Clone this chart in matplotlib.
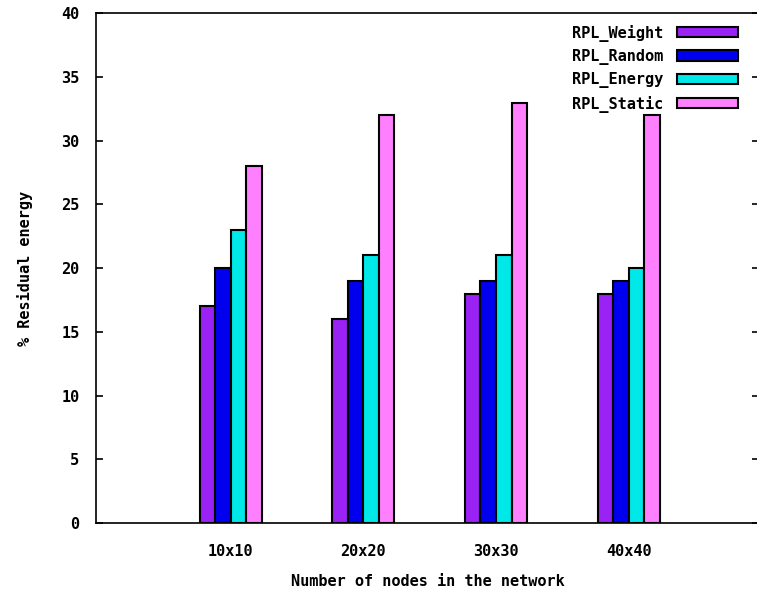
import matplotlib
matplotlib.use('Agg')
import matplotlib.pyplot as plt
import numpy as np

# data
groups = ['10x10', '20x20', '30x30', '40x40']
series = ['RPL_Weight', 'RPL_Random', 'RPL_Energy', 'RPL_Static']
weight = [17, 16, 18, 18]
random_ = [20, 19, 19, 19]
energy = [23, 21, 21, 20]
static = [28, 32, 33, 32]
values = [weight, random_, energy, static]
colors = ['#9a22f4', '#0000ee', '#00e8e8', '#ff80ff']

plt.rcParams['font.family'] = ['DejaVu Sans Mono']
plt.rcParams['font.weight'] = 'bold'

fig = plt.figure(figsize=(7.57, 5.94), dpi=100)
ax = fig.add_axes([0.127, 0.1195, 0.876, 0.858])

x = np.arange(1, len(groups) + 1)
w = 0.117
for i, (name, vals) in enumerate(zip(series, values)):
    ax.bar(x + (i - 1.5) * w, vals, w, color=colors[i], edgecolor='black',
           linewidth=1.5, label=name)

ax.set_xlim(-0.015, 4.985)
ax.set_ylim(0, 40)
ax.set_yticks(range(0, 41, 5))
ax.set_xticks(x)
ax.set_xticklabels(groups)
ax.tick_params(axis='y', direction='in', length=5, width=1.2, right=True,
               labelsize=11, pad=12)
ax.tick_params(axis='x', length=0, labelsize=11, pad=15)
for s in ax.spines.values():
    s.set_linewidth(1.2)

ax.set_xlabel('Number of nodes in the network', fontsize=11, fontweight='bold', labelpad=11)
ax.set_ylabel('% Residual energy', fontsize=11, fontweight='bold', labelpad=20)

ax.legend(loc='upper right', frameon=False, markerfirst=False, fontsize=11,
          handlelength=4.0, handleheight=0.65, labelspacing=0.48,
          borderaxespad=0.3, bbox_to_anchor=(0.984, 0.999), handletextpad=0.9)

fig.savefig('out.png', dpi=100)
